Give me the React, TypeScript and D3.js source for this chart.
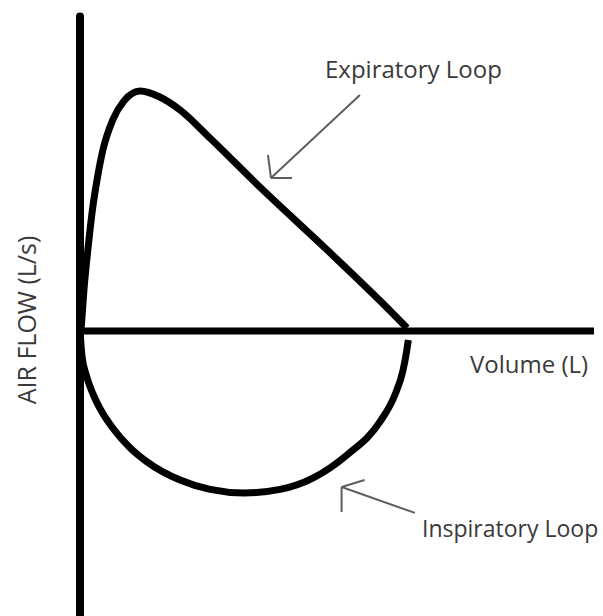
import React from "react";
import * as d3 from "d3";

// Flow-volume loop (volume in L, air flow in L/s)
const expVolume = [0.015, 0.06, 0.12, 0.2, 0.26, 0.35, 0.5, 0.67, 0.92, 1.22, 1.53, 1.99, 2.75, 3.78, 4.79, 5.0];
const expFlow = [0.0, 1.71, 3.38, 5.25, 6.29, 7.54, 8.79, 9.58, 10.0, 9.75, 9.21, 8.03, 6.0, 3.375, 0.71, 0.125];

const inspVolume = [0.0, 0.03, 0.09, 0.2, 0.35, 0.5, 0.76, 1.02, 1.53, 1.99, 2.51, 3.06, 3.56, 4.08, 4.59, 4.82, 4.94, 5.0, 5.02];
const inspFlow = [0.0, -1.04, -1.79, -2.63, -3.44, -4.04, -4.85, -5.44, -6.21, -6.6, -6.75, -6.6, -6.13, -5.17, -3.77, -2.63, -1.63, -0.75, -0.375];

const axisLabels = { x: "Volume (L)", y: "AIR FLOW (L/s)" };
const loopLabels = ["Expiratory Loop", "Inspiratory Loop"];
const xAxisMax = 7.86;
const yAxisMax = 13.1;
const yAxisMin = -12;

const W = 603;
const H = 616;

export default function App() {
  const x = d3.scaleLinear().domain([0, 8]).range([80, 80 + 8 * 65.4]);
  const y = d3.scaleLinear().domain([0, 10]).range([331, 91]);

  const line = d3
    .line<[number, number]>()
    .x((d) => x(d[0]))
    .y((d) => y(d[1]))
    .curve(d3.curveMonotoneX);

  const expPts: [number, number][] = expVolume.map((v, i) => [v, expFlow[i]]);
  const inspPts: [number, number][] = inspVolume.map((v, i) => [v, inspFlow[i]]);

  // annotation arrows (data coords: tail -> tip)
  const expArrow = { from: [4.28, 9.83], to: [2.92, 6.375] };
  const inspArrow = { from: [5.12, -7.58], to: [4.0, -6.5] };

  const ex1 = x(expArrow.from[0]);
  const ey1 = y(expArrow.from[1]);
  const ex2 = x(expArrow.to[0]);
  const ey2 = y(expArrow.to[1]);
  const ix1 = x(inspArrow.from[0]);
  const iy1 = y(inspArrow.from[1]);
  const ix2 = x(inspArrow.to[0]);
  const iy2 = y(inspArrow.to[1]);

  const textStyle: React.CSSProperties = {
    fontFamily: "'Open Sans', sans-serif",
    fontSize: 24,
    fill: "#3a3a3a",
  };
  const arrowColor = "#5e5e5e";

  return (
    <svg
      width={W}
      height={H}
      style={{ position: "absolute", left: 0, top: 0, background: "#fff" }}
    >
      <rect x={0} y={0} width={W} height={H} fill="#fff" />
      {/* axes */}
      <line
        x1={x(0)}
        x2={x(0)}
        y1={y(yAxisMax)}
        y2={y(yAxisMin)}
        stroke="#000"
        strokeWidth={8}
        strokeLinecap="round"
      />
      <line
        x1={x(0)}
        x2={x(xAxisMax)}
        y1={y(0)}
        y2={y(0)}
        stroke="#000"
        strokeWidth={7}
      />
      {/* loops */}
      <path d={line(expPts) || ""} fill="none" stroke="#000" strokeWidth={7} strokeLinejoin="round" />
      <path d={line(inspPts) || ""} fill="none" stroke="#000" strokeWidth={7} strokeLinejoin="round" />

      {/* arrows */}
      <g stroke={arrowColor} strokeWidth={2} fill="none">
        <line x1={ex1} y1={ey1} x2={ex2} y2={ey2} />
        <line x1={ex2} y1={ey2} x2={ex2 - 3} y2={ey2 - 23} />
        <line x1={ex2} y1={ey2} x2={ex2 + 21} y2={ey2} />
        <line x1={ix1} y1={iy1} x2={ix2} y2={iy2} />
        <line x1={ix2} y1={iy2} x2={ix2} y2={iy2 + 25} />
        <line x1={ix2} y1={iy2} x2={ix2 + 23} y2={iy2 - 7} />
      </g>

      {/* labels */}
      <text x={325} y={78} style={textStyle}>
        {loopLabels[0]}
      </text>
      <text x={422} y={537} style={{ ...textStyle, fontSize: 23 }}>
        {loopLabels[1]}
      </text>
      <text x={470} y={373} style={textStyle}>
        {axisLabels.x}
      </text>
      <text
        transform="translate(36,320) rotate(-90)"
        textAnchor="middle"
        style={{ ...textStyle, fontSize: 25 }}
      >
        {axisLabels.y}
      </text>
    </svg>
  );
}
